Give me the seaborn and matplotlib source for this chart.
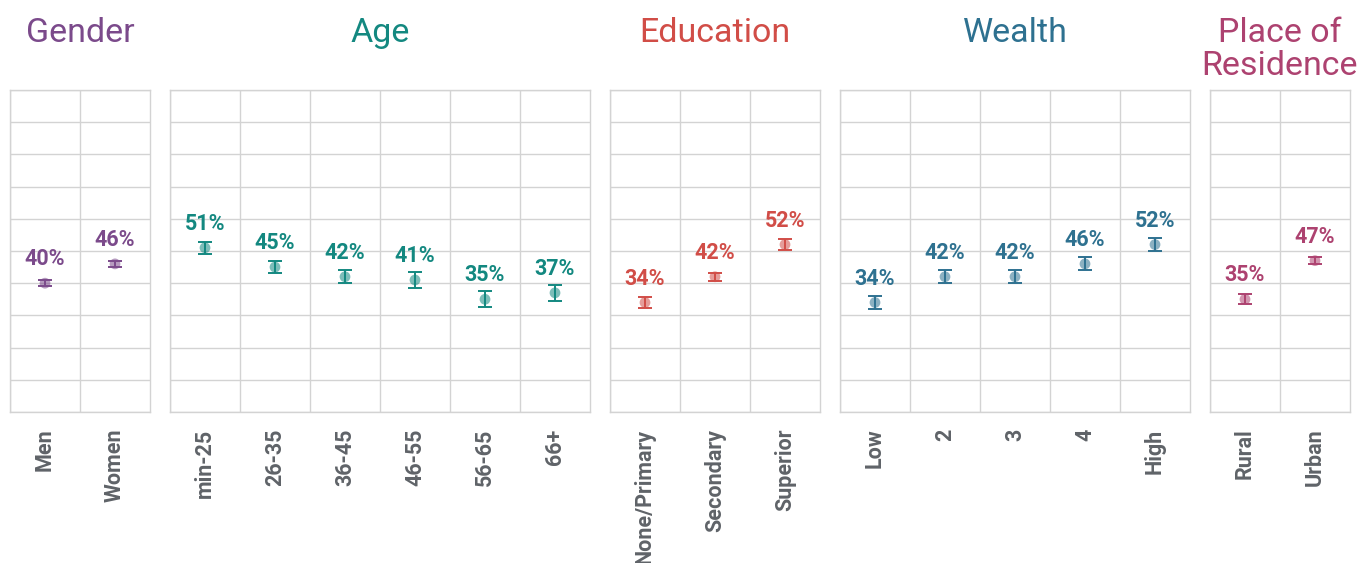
import numpy as np
import matplotlib
matplotlib.use("Agg")
import matplotlib.pyplot as plt
import seaborn as sns
import pandas as pd

sns.set_style("white")
plt.rcParams["font.family"] = ["Roboto", "DejaVu Sans"]

# data per panel
gender_cats = ["Men", "Women"]
gender_vals = [40, 46]
gender_err = [1.0, 1.0]

age_cats = ["min-25", "26-35", "36-45", "46-55", "56-65", "66+"]
age_vals = [51, 45, 42, 41, 35, 37]
age_err = [1.8, 1.8, 2.0, 2.4, 2.5, 2.5]

edu_cats = ["None/Primary", "Secondary", "Superior"]
edu_vals = [34, 42, 52]
edu_err = [1.8, 1.3, 1.6]

wealth_cats = ["Low", "2", "3", "4", "High"]
wealth_vals = [34, 42, 42, 46, 52]
wealth_err = [2.0, 2.0, 2.0, 2.0, 2.0]

res_cats = ["Rural", "Urban"]
res_vals = [35, 47]
res_err = [1.6, 1.1]

panels = [
    ("Gender", gender_cats, gender_vals, gender_err, "#7B4A8B", 10, 150),
    ("Age", age_cats, age_vals, age_err, "#138880", 170, 590),
    ("Education", edu_cats, edu_vals, edu_err, "#D14D47", 610, 820),
    ("Wealth", wealth_cats, wealth_vals, wealth_err, "#2E7190", 840, 1190),
    ("Place of\nResidence", res_cats, res_vals, res_err, "#AD4270", 1210, 1350),
]

W, H = 1360, 563
fig = plt.figure(figsize=(W / 100, H / 100), dpi=100)
grid_col = "#D3D3D3"

for title, cats, vals, errs, col, x0, x1 in panels:
    ax = fig.add_axes([x0 / W, 1 - 412 / H, (x1 - x0) / W, 322 / H])
    df = pd.DataFrame({"cat": cats, "val": vals, "err": errs})
    sns.scatterplot(data=df, x="cat", y="val", ax=ax, color=col, alpha=0.55,
                    s=60, edgecolor="none", zorder=3)
    ax.errorbar(df["cat"], df["val"], yerr=df["err"], fmt="none", ecolor=col,
                elinewidth=1.4, capsize=5, capthick=1.4, zorder=4)
    for c, v in zip(cats, vals):
        ax.annotate(f"{v}%", (c, v), xytext=(0, 24), textcoords="offset pixels",
                    ha="center", va="center", fontsize=15.5, fontweight="bold", color=col)
    n = len(cats)
    ax.set_xlim(-0.5, n - 0.5)
    ax.set_ylim(0, 100)
    ax.set_yticks(np.arange(0, 101, 10))
    ax.set_xticks(np.arange(n) - 0.5, minor=True)
    ax.grid(axis="y", which="major", color=grid_col, lw=1)
    ax.grid(axis="x", which="minor", color=grid_col, lw=1)
    ax.grid(axis="x", which="major", visible=False)
    ax.set_yticklabels([])
    ax.tick_params(axis="both", which="both", length=0)
    ax.tick_params(axis="x", which="major", pad=12)
    ax.set_xticks(range(n))
    ax.set_xticklabels(cats, rotation=90, fontsize=15.5, fontweight="bold",
                       color="#5F6368", va="top", ha="center")
    ax.set_xlabel("")
    ax.set_ylabel("")
    for s in ax.spines.values():
        s.set_color(grid_col)
        s.set_linewidth(1)
    ax.text(0.5, 1 + 73 / 322, title, transform=ax.transAxes, ha="center", va="top",
            fontsize=24.5, color=col, linespacing=1.05)

fig.savefig("out.png", dpi=100)
